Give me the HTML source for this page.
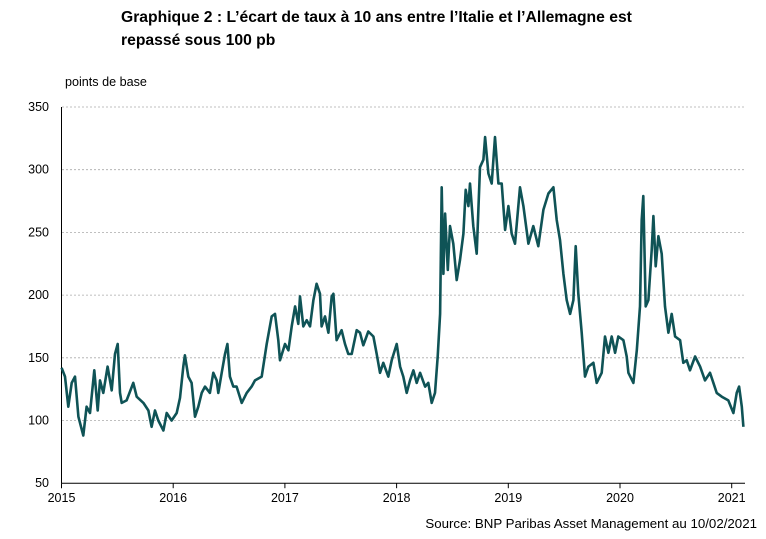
<!DOCTYPE html>
<html><head><meta charset="utf-8"><style>
body{margin:0;background:#fff;width:766px;height:539px;overflow:hidden;font-family:"Liberation Sans",Arial,sans-serif}
svg{position:absolute;left:0;top:0}
</style></head><body>
<svg width="766" height="539">
<text x="121" y="22" font-size="15.7" font-weight="bold" fill="#000">Graphique 2 : L’écart de taux à 10 ans entre l’Italie et l’Allemagne est</text>
<text x="121" y="45" font-size="15.7" font-weight="bold" fill="#000">repassé sous 100 pb</text>
<text x="65" y="86" font-size="12.6" fill="#000">points de base</text>
<g id="grid"></g><g id="yt"></g><g id="xt"></g>
<path id="line" fill="none" stroke="#0f5356" stroke-width="2.6" stroke-linejoin="round"/>
<text x="757" y="528" font-size="13.3" text-anchor="end" fill="#000">Source: BNP Paribas Asset Management au 10/02/2021</text>
</svg>
<script>
const yTicks=[50,100,150,200,250,300,350];
const xYears=[2015,2016,2017,2018,2019,2020,2021];
const times=[0.001,.031,.061,.091,.121,.151,.195,.225,.255,.294,.324,.345,.374,.413,.449,.479,.503,.524,.539,.583,.643,.673,.733,.778,.807,.837,.867,.912,.942,.986,1.031,1.061,1.090,1.105,1.135,1.165,1.195,1.225,1.255,1.285,1.329,1.359,1.389,1.404,1.434,1.464,1.485,1.508,1.538,1.568,1.613,1.658,1.702,1.732,1.792,1.837,1.882,1.911,1.941,1.956,2.001,2.031,2.061,2.091,2.120,2.135,2.165,2.195,2.225,2.255,2.284,2.314,2.329,2.359,2.389,2.419,2.434,2.463,2.508,2.538,2.568,2.598,2.643,2.672,2.702,2.747,2.792,2.822,2.851,2.881,2.926,2.956,3.001,3.031,3.060,3.090,3.120,3.150,3.180,3.210,3.255,3.284,3.314,3.344,3.368,3.389,3.404,3.419,3.434,3.458,3.478,3.508,3.538,3.568,3.598,3.619,3.643,3.657,3.687,3.717,3.747,3.777,3.792,3.822,3.851,3.881,3.911,3.941,3.971,4.001,4.030,4.060,4.105,4.135,4.180,4.224,4.269,4.314,4.359,4.404,4.433,4.463,4.493,4.523,4.553,4.583,4.603,4.627,4.657,4.687,4.717,4.762,4.791,4.836,4.866,4.896,4.926,4.956,4.985,5.030,5.060,5.075,5.120,5.150,5.179,5.194,5.209,5.230,5.254,5.284,5.299,5.320,5.344,5.373,5.403,5.433,5.463,5.493,5.538,5.567,5.597,5.627,5.672,5.717,5.761,5.806,5.836,5.866,5.911,5.970,6.015,6.045,6.066,6.090,6.105];
const values=[142,135,111,130,135,103,88,111,106,140,108,132,122,143,124,153,161,122,114,116,130,119,114,108,95,108,100,92,106,100,106,118,143,152,135,130,103,111,122,127,122,138,132,122,138,153,161,135,127,127,114,122,127,132,135,161,183,185,164,148,161,156,175,191,177,199,175,180,175,196,209,201,175,183,170,199,201,164,172,161,153,153,172,170,160,171,167,153,138,146,135,148,161,143,135,122,132,140,130,138,127,130,114,122,151,185,286,217,265,220,255,241,212,228,249,284,271,289,255,233,302,308,326,297,289,326,289,289,252,271,249,241,286,271,241,255,239,268,281,286,260,244,217,196,185,196,239,201,170,135,143,146,130,138,167,154,167,154,167,164,151,138,130,156,191,260,279,191,196,236,263,223,247,233,191,170,185,167,164,146,148,140,151,143,132,138,130,122,119,116,106,122,127,111,95];
const X0=61.5,PX=111.7,Y0=107,PY=62.7/50;
const xs=t=>X0+t*PX, ys=v=>Y0+(350-v)*PY;
const NS="http://www.w3.org/2000/svg";
function mk(tag,at,parent){const e=document.createElementNS(NS,tag);for(const k in at)e.setAttribute(k,at[k]);document.getElementById(parent).appendChild(e);return e;}
yTicks.forEach(v=>{
  if(v>50){const g=mk('line',{x1:62,x2:745,y1:ys(v),y2:ys(v),stroke:'#aaa','stroke-width':0.8,'stroke-dasharray':'2,2'},'grid');
  
  }
  const t=mk('text',{x:49,y:ys(v)+4,'font-size':12.5,'text-anchor':'end'},'yt');t.textContent=v;
  
  
});
const ax=mk('line',{x1:X0,x2:X0,y1:Y0,y2:ys(50),stroke:'#000','stroke-width':1},'grid');


const bx=mk('line',{x1:X0,x2:745,y1:ys(50),y2:ys(50),stroke:'#000','stroke-width':1},'grid');


xYears.forEach(yr=>{
  const x=xs(yr-2015);
  mk('line',{x1:x,x2:x,y1:ys(50),y2:ys(50)+5,stroke:'#000'},'xt');
  const t=mk('text',{x:x,y:502,'font-size':12.5,'text-anchor':'middle'},'xt');t.textContent=yr;
  
  
});
document.getElementById('line').setAttribute('d',times.map((t,i)=>(i?'L':'M')+xs(t).toFixed(1)+','+ys(values[i]).toFixed(1)).join(''));
</script>
</body></html>
